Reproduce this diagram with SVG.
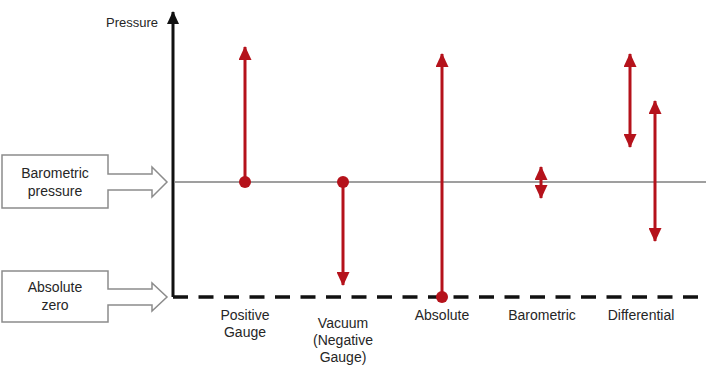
<svg xmlns="http://www.w3.org/2000/svg" width="711" height="371" viewBox="0 0 711 371">
<style>
.lbl{font-family:"Liberation Sans",Arial,sans-serif;font-size:14px;fill:#262626;text-anchor:middle}
.box{fill:#fff;stroke:#8c8c8c;stroke-width:1.5}
.red{stroke:#b5121b;stroke-width:3;fill:none}
.redf{fill:#b5121b}
</style>
<defs>
<marker id="ah" viewBox="0 0 14 13" refX="13" refY="6.5" markerWidth="14" markerHeight="13" markerUnits="userSpaceOnUse" orient="auto-start-reverse">
<path d="M0,0 L14,6.5 L0,13 Z" fill="#b5121b"/>
</marker>
<marker id="axh" viewBox="0 0 13 12" refX="12" refY="6" markerWidth="13" markerHeight="12" markerUnits="userSpaceOnUse" orient="auto">
<path d="M0,0 L13,6 L0,12 Z" fill="#111"/>
</marker>
</defs>
<rect width="711" height="371" fill="#fff"/>
<g id="connectors">
<line x1="175" y1="182" x2="706" y2="182" stroke="#7f7f7f" stroke-width="1.5"/>
<line x1="173" y1="297" x2="706" y2="297" stroke="#111" stroke-width="3.5" stroke-dasharray="15 10.5"/>
<line x1="173" y1="297" x2="173" y2="12" stroke="#111" stroke-width="3" marker-end="url(#axh)"/>
</g>
<g id="axis-label"><text x="158" y="27" class="lbl" style="font-size:13px;text-anchor:end">Pressure</text></g>
<g id="barometric-pressure">
<path class="box" d="M2,155 H108 V174 H152 V167 L167,182 L152,197 V190 H108 V208 H2 Z"/>
<text class="lbl" x="55" y="178">Barometric</text>
<text class="lbl" x="55" y="196">pressure</text>
</g>
<g id="absolute-zero">
<path class="box" d="M2,271 H108 V289 H152 V283 L167,297 L152,311 V305 H108 V322 H2 Z"/>
<text class="lbl" x="55" y="292">Absolute</text>
<text class="lbl" x="55" y="310">zero</text>
</g>
<g id="positive-gauge">
<line class="red" x1="245" y1="182" x2="245" y2="47" marker-end="url(#ah)"/>
<circle class="redf" cx="245" cy="182" r="6"/>
<text class="lbl" x="245" y="320">Positive</text>
<text class="lbl" x="245" y="337">Gauge</text>
</g>
<g id="vacuum">
<line class="red" x1="343" y1="182" x2="343" y2="285" marker-end="url(#ah)"/>
<circle class="redf" cx="343" cy="182" r="6"/>
<text class="lbl" x="343" y="328">Vacuum</text>
<text class="lbl" x="343" y="345">(Negative</text>
<text class="lbl" x="343" y="362">Gauge)</text>
</g>
<g id="absolute">
<line class="red" x1="442" y1="297" x2="442" y2="54" marker-end="url(#ah)"/>
<circle class="redf" cx="442" cy="297" r="6"/>
<text class="lbl" x="442" y="320">Absolute</text>
</g>
<g id="barometric">
<line class="red" x1="541" y1="167" x2="541" y2="198" marker-start="url(#ah)" marker-end="url(#ah)"/>
<text class="lbl" x="542" y="320">Barometric</text>
</g>
<g id="differential">
<line class="red" x1="630" y1="54" x2="630" y2="147" marker-start="url(#ah)" marker-end="url(#ah)"/>
<line class="red" x1="655" y1="101" x2="655" y2="241" marker-start="url(#ah)" marker-end="url(#ah)"/>
<text class="lbl" x="641" y="320">Differential</text>
</g>
</svg>
